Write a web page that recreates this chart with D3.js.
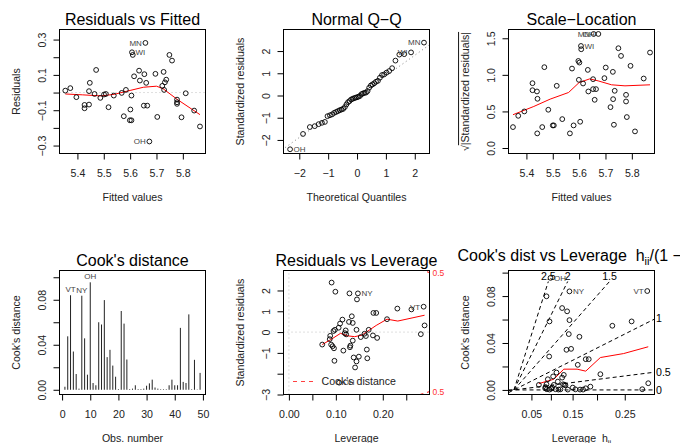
<!DOCTYPE html>
<html>
<head>
<meta charset="utf-8">
<script src="https://cdn.jsdelivr.net/npm/d3@7"></script>
<style>
body{margin:0;background:#fff}
svg{display:block;font-family:"Liberation Sans",Arial,Helvetica,sans-serif}
</style>
</head>
<body>
<script>
// ---- Residuals vs Fitted
const fitted = [5.354,5.373,5.396,5.427,5.427,5.444,5.447,5.444,5.465,5.471,5.487,5.501,5.508,5.518,5.538,5.568,5.576,5.584,5.601,5.605,5.599,5.605,5.607,5.610,5.615,5.634,5.637,5.654,5.652,5.665,5.661,5.658,5.673,5.696,5.703,5.722,5.727,5.732,5.737,5.729,5.749,5.759,5.778,5.778,5.778,5.795,5.811,5.843,5.865]
const residuals = [0.011,0.025,-0.026,-0.070,-0.089,-0.068,0.055,0.008,-0.008,0.128,-0.030,-0.011,-0.008,-0.083,-0.017,-0.002,-0.134,0.015,-0.096,-0.017,-0.157,-0.157,0.228,0.213,0.092,0.124,0.068,0.104,-0.074,-0.074,0.055,0.281,-0.277,0.106,-0.138,0.038,0.117,0.058,0.073,0.015,0.213,0.181,-0.040,-0.055,-0.064,-0.140,-0.004,-0.102,-0.192]
const fitSmoothX = [5.354,5.42,5.49,5.54,5.60,5.65,5.70,5.725,5.78,5.865]
const fitSmoothY = [-0.008,-0.013,-0.019,-0.010,0.012,0.030,0.036,0.022,-0.040,-0.125]
const fitIds = [[31,"MN"],[22,"WI"],[32,"OH"]]

// ---- Normal Q-Q
const qqTheo = [-2.319,-1.871,-1.635,-1.465,-1.330,-1.215,-1.114,-1.023,-0.940,-0.864,-0.792,-0.724,-0.658,-0.596,-0.536,-0.478,-0.421,-0.366,-0.311,-0.258,-0.205,-0.154,-0.102,-0.051,0,0.051,0.102,0.154,0.205,0.258,0.311,0.366,0.421,0.478,0.536,0.596,0.658,0.724,0.792,0.864,0.940,1.023,1.114,1.215,1.330,1.465,1.635,1.871,2.319]
const qqStd = [-2.42,-1.73,-1.42,-1.38,-1.29,-1.23,-1.19,-0.93,-0.89,-0.85,-0.78,-0.74,-0.70,-0.66,-0.63,-0.60,-0.52,-0.40,-0.30,-0.25,-0.18,-0.15,-0.12,-0.10,-0.08,-0.05,-0.02,0.06,0.09,0.12,0.13,0.20,0.35,0.45,0.50,0.55,0.62,0.66,0.80,0.92,0.95,1.03,1.10,1.23,1.57,1.84,1.86,1.94,2.38]
const qqRefX = [-2.6, 2.6]
const qqRefY = [-2.445, 2.365]
const qqIds = [[48,"MN"],[47,"WI"],[0,"OH"]]

// ---- Scale-Location
const slFitted = [5.349,5.369,5.392,5.423,5.423,5.44,5.442,5.441,5.46,5.468,5.483,5.5,5.504,5.515,5.536,5.565,5.573,5.579,5.597,5.601,5.599,5.604,5.607,5.608,5.615,5.633,5.635,5.653,5.653,5.664,5.659,5.655,5.673,5.701,5.696,5.719,5.728,5.729,5.732,5.735,5.749,5.759,5.778,5.778,5.781,5.795,5.812,5.845,5.869]
const slRoot = [0.286,0.44,0.50,0.886,0.79,0.773,0.673,0.20,0.286,1.105,0.523,0.309,0.309,0.85,0.395,0.20,1.086,0.309,1.19,1.168,0.932,0.359,1.395,1.35,0.882,1.068,0.773,0.941,0.805,0.805,0.659,1.559,1.559,1.10,0.955,0.559,1.041,0.668,0.318,0.782,1.364,1.259,0.727,0.636,0.423,1.123,0.227,0.95,1.305]
const slSmoothX = [5.349,5.428,5.49,5.56,5.60,5.64,5.672,5.723,5.774,5.869]
const slSmoothY = [0.455,0.568,0.668,0.759,0.895,0.945,0.918,0.864,0.85,0.864]
const slIds = [[31,"MN"],[22,"WI"],[32,"OH"]]

// ---- Cook's distance
const cooks = [0.0027,0.0475,0.084,0.034,0.014,0.001,0.0836,0.0457,0.0134,0.0955,0.006,0.004,0.060,0.058,0.0797,0.029,0.0355,0.0215,0.0116,0.0006,0.070,0.0588,0.0269,0.0006,0.001,0.004,0.0006,0.0006,0.001,0.0036,0.0057,0.009,0.002,0.001,0.0005,0.0005,0.0005,0.004,0.009,0.004,0.004,0.055,0.007,0.006,0.067,0.0005,0.0266,0.0003,0.015]
const cookIds = [[9,"OH"],[2,"VT"],[6,"NY"]]

// ---- Residuals vs Leverage
const lev = [0.071,0.091,0.099,0.088,0.090,0.093,0.096,0.095,0.098,0.097,0.106,0.109,0.114,0.116,0.121,0.122,0.129,0.128,0.131,0.130,0.134,0.136,0.136,0.138,0.141,0.144,0.145,0.147,0.144,0.149,0.153,0.161,0.164,0.166,0.167,0.170,0.179,0.180,0.186,0.188,0.209,0.231,0.261,0.281,0.287,0.289,0.107,0.087,0.119]
const levStd = [-0.60,2.38,1.94,-0.18,-0.60,-0.68,-0.78,0.05,0.11,-1.38,0.21,0.41,0.60,-0.89,0.08,-0.11,1.86,0.49,-0.65,-0.73,0.76,0.44,-0.41,-1.22,-1.70,0.11,1.57,1.86,-1.41,-1.18,-0.24,-0.08,-0.19,-0.84,-1.26,0.11,-0.16,0.92,0.92,-0.28,0.62,1.13,1.09,-0.10,1.22,0.32,-2.43,-0.34,-0.05]
const levSmoothX = [0.071,0.09,0.11,0.125,0.14,0.155,0.165,0.186,0.209,0.232,0.289]
const levSmoothY = [-0.60,-0.35,-0.06,-0.18,-0.22,-0.15,0.0,0.32,0.62,0.53,0.81]
const levIds = [[27,"NY"],[44,"VT"],[46,"OH"]]
const contourH = [0.278,0.285,0.292,0.2995]
const contourR = [3.01,2.963,2.913,2.861]
const cookLevel = "0.5", cookLevelAt = 2.86

// ---- Cook's dist vs Leverage h/(1-h)
const gLev = [0.075,0.098,0.107,0.106,0.102,0.098,0.094,0.099,0.107,0.115,0.120,0.128,0.132,0.134,0.145,0.145,0.150,0.148,0.152,0.155,0.160,0.158,0.165,0.167,0.167,0.172,0.162,0.177,0.192,0.197,0.199,0.208,0.216,0.216,0.225,0.230,0.260,0.296,0.354,0.386,0.401,0.404,0.110,0.112,0.125,0.140,0.185,0.095,0.118]
const gCook = [0.0043,0.0798,0.0584,0.0285,0.0091,0.0048,0.0014,0.0006,0.0003,0.002,0.0043,0.0148,0.0071,0.0003,0.0698,0.0105,0.0128,0.0048,0.0043,0.004,0.067,0.0342,0.0476,0.0595,0.0840,0.035,0.0003,0.002,0.0214,0.0453,0.0003,0.0003,0.0014,0.0262,0.0262,0.0028,0.0134,0.0547,0.0584,0.0006,0.0843,0.0057,0.0955,0.0011,0.0006,0.0005,0.0005,0.0025,0.0115]
const gSmoothX = [0.075,0.12,0.150,0.19,0.216,0.26,0.33,0.404]
const gSmoothY = [0.0054,0.0091,0.0177,0.0177,0.016,0.0276,0.031,0.0368]
const gIds = [[24,"NY"],[40,"VT"],[42,"OH"]]
const bLevels = [0, 0.5, 1, 1.5, 2, 2.5]
const nCoef = 7

// ---- tick values
const fitTicks = [5.4,5.5,5.6,5.7,5.8]
const resTicks = [-0.3,-0.2,-0.1,0,0.1,0.2,0.3], resLabels = [-0.3,-0.1,0.1,0.3]
const qqTicks = [-2,-1,0,1,2]
const slTicks = [0,0.5,1,1.5]
const obsTicks = [0,10,20,30,40,50]
const cookTicks = [0,0.02,0.04,0.06,0.08,0.10], cookLabels = [0,0.04,0.08]
const levTicks = [0,0.05,0.10,0.15,0.20,0.25], levLabels = [0,0.10,0.20]
const stdTicks = [-3,-2,-1,0,1,2], stdLabels = [-3,-1,0,1,2]
const hTicks = [0.05,0.10,0.15,0.20,0.25], hLabels = [0.05,0.15,0.25]

const W = 680, H = 443
const svg = d3.select("body").append("svg").attr("width", W).attr("height", H)
svg.append("rect").attr("width", W).attr("height", H).attr("fill", "#fff")

const colX = [59.5, 283.5, 508.5], boxW = 146
const rowY = [29.5, 270.5], boxH = 124
const axisSize = 10.6
const idColor = "#444"

function make_panel(col, row, xdom, ydom, id){
    const left = colX[col], top = rowY[row]
    const x = d3.scaleLinear().domain(xdom).range([left, left + boxW])
    const y = d3.scaleLinear().domain(ydom).range([top + boxH, top])
    svg.append("clipPath").attr("id", "clip" + id)
        .append("rect").attr("x", left).attr("y", top).attr("width", boxW).attr("height", boxH)
    const g = svg.append("g")
    const inner = g.append("g").attr("clip-path", `url(#clip${id})`)
    return {g, inner, x, y, left, top, right: left + boxW, bottom: top + boxH}
}

const has = (arr, v) => arr.some(a => Math.abs(a - v) < 1e-9)

function x_axis(p, ticks, fmt, scaleTicks){
    const ax = d3.axisBottom(p.x).tickValues(scaleTicks || ticks).tickSize(6)
        .tickFormat((d, i) => fmt(ticks[i]))
    const a = p.g.append("g").attr("transform", `translate(0,${p.bottom})`).call(ax)
    a.attr("font-family", null).attr("font-size", axisSize)
    a.select(".domain").remove()
    a.selectAll("line").attr("stroke", "#000")
    a.selectAll("text").attr("dy", null).attr("y", 23.5).attr("fill", "#222")
}

function y_axis(p, ticks, fmt){
    const ax = d3.axisLeft(p.y).tickValues(ticks).tickSize(6).tickFormat(fmt)
    const a = p.g.append("g").attr("transform", `translate(${p.left},0)`).call(ax)
    a.attr("font-family", null).attr("font-size", axisSize)
    a.select(".domain").remove()
    a.selectAll("line").attr("stroke", "#000")
    a.selectAll("text").attr("x", 0).attr("dy", null).attr("y", -14)
        .attr("text-anchor", "middle").attr("transform", "rotate(-90)").attr("fill", "#222")
}

function frame(p, main, xlab, ylab, mainY){
    p.g.append("rect").attr("x", p.left).attr("y", p.top).attr("width", boxW).attr("height", boxH)
        .attr("fill", "none").attr("stroke", "#000").attr("stroke-width", 1)
    if (main) p.g.append("text").attr("x", p.left + boxW / 2).attr("y", mainY)
        .attr("text-anchor", "middle").attr("font-size", 16).text(main)
    if (xlab) p.g.append("text").attr("x", p.left + boxW / 2).attr("y", p.bottom + 47.5)
        .attr("text-anchor", "middle").attr("font-size", axisSize).attr("fill", "#222").text(xlab)
    if (ylab) p.g.append("text")
        .attr("transform", `translate(${p.left - 39.5},${p.top + boxH / 2}) rotate(-90)`)
        .attr("text-anchor", "middle").attr("font-size", axisSize).attr("fill", "#222").text(ylab)
}

function points(p, xs, ys){
    p.g.append("g").selectAll("circle").data(xs).join("circle")
        .attr("cx", d => p.x(d)).attr("cy", (d, i) => p.y(ys[i])).attr("r", 2.4)
        .attr("fill", "none").attr("stroke", "#000").attr("stroke-width", 0.9)
}

function smooth(p, xs, ys, color){
    p.inner.append("path").datum(xs)
        .attr("d", d3.line().x(d => p.x(d)).y((d, i) => p.y(ys[i])))
        .attr("fill", "none").attr("stroke", color || "red").attr("stroke-width", 1)
}

function ref_line(p, x0, y0, x1, y1, color, dash){
    p.inner.append("line").attr("x1", p.x(x0)).attr("y1", p.y(y0)).attr("x2", p.x(x1)).attr("y2", p.y(y1))
        .attr("stroke", color).attr("stroke-width", 1).attr("stroke-dasharray", dash)
}

function id_labels(p, xs, ys, ids){
    const mid = (d3.min(xs) + d3.max(xs)) / 2
    for (const [i, name] of ids){
        const left = xs[i] > mid
        p.g.append("text").attr("x", p.x(xs[i]) + (left ? -3.5 : 3.5)).attr("y", p.y(ys[i]))
            .attr("dy", "0.35em").attr("text-anchor", left ? "end" : "start")
            .attr("font-size", 8).attr("fill", idColor).text(name)
    }
}

const f1 = d3.format(".1f"), f2 = d3.format(".2f"), f0 = d3.format("d")

// ---------- 1: Residuals vs Fitted
const p1 = make_panel(0, 0, [5.332, 5.886], [-0.345, 0.357], 1)
ref_line(p1, 5.332, 0, 5.886, 0, "#bebebe", "1,3")
points(p1, fitted, residuals)
smooth(p1, fitSmoothX, fitSmoothY)
id_labels(p1, fitted, residuals, fitIds)
x_axis(p1, fitTicks, f1)
y_axis(p1, resTicks, d => has(resLabels, d) ? f1(d) : "")
frame(p1, "Residuals vs Fitted", "Fitted values", "Residuals", 25.3)

// ---------- 2: Normal Q-Q
const p2 = make_panel(1, 0, [-2.547, 2.51], [-2.61, 2.97], 2)
ref_line(p2, qqRefX[0], qqRefY[0], qqRefX[1], qqRefY[1], "#7f7f7f", "1,3")
points(p2, qqTheo, qqStd)
id_labels(p2, qqTheo, qqStd, qqIds)
x_axis(p2, qqTicks, f0)
y_axis(p2, qqTicks, f0)
frame(p2, "Normal Q\u2212Q", "Theoretical Quantiles", "Standardized residuals", 25.3)

// ---------- 3: Scale-Location
const p3 = make_panel(2, 0, [5.332, 5.886], [-0.075, 1.62], 3)
points(p3, slFitted, slRoot)
smooth(p3, slSmoothX, slSmoothY)
id_labels(p3, slFitted, slRoot, slIds)
x_axis(p3, fitTicks, f1)
y_axis(p3, slTicks, f1)
frame(p3, "Scale\u2212Location", "Fitted values", null, 25.3)
const yl3 = p3.g.append("text")
    .attr("transform", `translate(${p3.left - 39.5},${p3.top + boxH / 2}) rotate(-90)`)
    .attr("text-anchor", "middle").attr("font-size", axisSize).attr("fill", "#222")
yl3.append("tspan").text("\u221A")
yl3.append("tspan").attr("text-decoration", "overline").text("|Standardized residuals|")

// ---------- 4: Cook's distance
const p4 = make_panel(0, 1, [-0.92, 50.92], [-0.0042, 0.106], 4)
p4.g.append("g").selectAll("line").data(cooks).join("line")
    .attr("x1", (d, i) => p4.x(i + 1)).attr("x2", (d, i) => p4.x(i + 1))
    .attr("y1", p4.y(0)).attr("y2", d => p4.y(d))
    .attr("stroke", "#222").attr("stroke-width", 1)
for (const [i, name] of cookIds){
    p4.g.append("text").attr("x", p4.x(i + 1)).attr("y", p4.y(cooks[i]) - 3)
        .attr("text-anchor", "middle").attr("font-size", 8).attr("fill", idColor).text(name)
}
x_axis(p4, obsTicks, f0)
y_axis(p4, cookTicks, d => has(cookLabels, d) ? f2(d) : "")
frame(p4, "Cook's distance", "Obs. number", "Cook's distance", 265.5)

// ---------- 5: Residuals vs Leverage
const p5 = make_panel(1, 1, [-0.0115, 0.2995], [-3.0, 2.96], 5)
ref_line(p5, -0.0115, 0, 0.2995, 0, "#bebebe", "1,3")
ref_line(p5, 0, -3, 0, 2.96, "#bebebe", "1,3")
for (const s of [1, -1]){
    p5.inner.append("path").datum(contourH)
        .attr("d", d3.line().x(d => p5.x(d)).y((d, i) => p5.y(s * contourR[i])))
        .attr("fill", "none").attr("stroke", "red").attr("stroke-dasharray", "4,4")
    p5.g.append("text").attr("x", p5.right + 3).attr("y", p5.y(s * cookLevelAt)).attr("dy", "0.35em")
        .attr("font-size", 8.5).attr("fill", "#ff3030").text(cookLevel)
}
points(p5, lev, levStd)
smooth(p5, levSmoothX, levSmoothY)
id_labels(p5, lev, levStd, levIds)
x_axis(p5, levTicks, d => has(levLabels, d) ? f2(d) : "")
y_axis(p5, stdTicks, d => has(stdLabels, d) ? f0(d) : "")
frame(p5, "Residuals vs Leverage", "Leverage", "Standardized residuals", 265.5)
p5.g.append("line").attr("x1", p5.left + 9.5).attr("x2", p5.left + 29.5)
    .attr("y1", 381.5).attr("y2", 381.5)
    .attr("stroke", "#ff4040").attr("stroke-width", 1).attr("stroke-dasharray", "4,4")
p5.g.append("text").attr("x", p5.left + 38).attr("y", p5.bottom - 9.3)
    .attr("font-size", axisSize).attr("fill", "#222").text("Cook's distance")

// ---------- 6: Cook's dist vs Leverage
const p6 = make_panel(2, 1, [-0.0163, 0.4228], [-0.0039, 0.1018], 6)
const gx = p6.x.domain(), gy = p6.y.domain()
for (const b of bLevels){
    const b2 = b * b
    if (nCoef * gy[1] > b2 * gx[1]){
        ref_line(p6, gx[0], b2 * gx[0] / nCoef, gx[1], b2 * gx[1] / nCoef, "#000", "4,3")
        const xi = p6.x.invert(p6.right + 1.5)
        p6.g.append("text").attr("x", p6.right + 1.5).attr("y", p6.y(b2 * xi / nCoef)).attr("dy", "0.35em")
            .attr("font-size", axisSize).text(String(b))
    } else {
        const yi = p6.y.invert(p6.top + 11)
        const xi = nCoef * yi / b2
        ref_line(p6, 0, 0, xi, yi, "#000", "4,3")
        p6.g.append("text").attr("x", p6.x(xi)).attr("y", p6.top + 6.2).attr("dy", "0.35em")
            .attr("text-anchor", "middle").attr("font-size", axisSize).text(String(b))
    }
}
points(p6, gLev, gCook)
smooth(p6, gSmoothX, gSmoothY)
id_labels(p6, gLev, gCook, gIds)
x_axis(p6, hTicks, d => has(hLabels, d) ? f2(d) : "", hTicks.map(h => h / (1 - h)))
y_axis(p6, cookTicks, d => has(cookLabels, d) ? f2(d) : "")
frame(p6, null, null, "Cook's distance")

const t6 = p6.g.append("text").attr("x", p6.left + boxW / 2).attr("y", 261)
    .attr("text-anchor", "middle").attr("font-size", 16).style("white-space", "pre")
t6.append("tspan").text("Cook's dist vs Leverage  h")
t6.append("tspan").attr("font-size", 11).attr("dy", 3.5).text("ii")
t6.append("tspan").attr("dy", -3.5).text("/(1 \u2212 h")
t6.append("tspan").attr("font-size", 11).attr("dy", 3.5).text("ii")
t6.append("tspan").attr("dy", -3.5).text(")")

const x6 = p6.g.append("text").attr("x", p6.left + boxW / 2).attr("y", p6.bottom + 47.5)
    .attr("text-anchor", "middle").attr("font-size", axisSize).attr("fill", "#222").style("white-space", "pre")
x6.append("tspan").text("Leverage  h")
x6.append("tspan").attr("font-size", 7.5).attr("dy", 2.5).text("ii")
</script>
</body>
</html>
